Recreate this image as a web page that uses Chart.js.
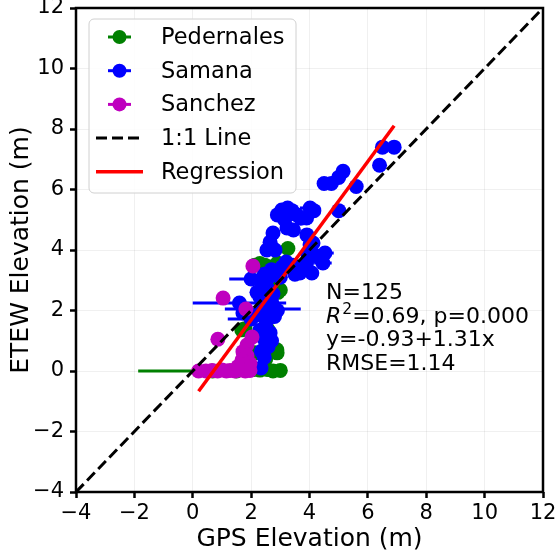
<!DOCTYPE html>
<html>
<head>
<meta charset="utf-8">
<script src="https://cdn.jsdelivr.net/npm/chart.js@4/dist/chart.umd.min.js"></script>
<style>
  html, body { margin: 0; padding: 0; background: #fff; }
  canvas { display: block; }
</style>
</head>
<body>
<canvas id="c" width="558" height="554"></canvas>
<script>
// GPS vs. ETEW elevations (m) for three sites, with horizontal GPS uncertainty
const pedGps  = [0.68, 1.5, 1.9, 2.1, 2.3, 2.55, 2.75, 3.0, 2.5, 2.13, 2.89, 2.7, 1.68, 1.79, 2.58, 2.88, 2.6, 2.4, 2.7, 2.5, 2.37, 2.92, 2.75, 3.0, 2.47, 2.9, 2.65, 2.13, 2.3, 3.0, 3.26];
const pedEtew = [0.0, 0.0, 0.1, 0.05, 0.03, 0.05, 0.0, 0.02, 0.4, 0.6, 0.6, 0.75, 1.36, 1.4, 1.36, 0.7, 1.0, 1.9, 2.0, 2.3, 2.58, 2.6, 2.9, 2.68, 3.5, 3.57, 3.44, 3.5, 3.55, 3.3, 4.05];
const pedErr  = [2.55, 0, 0, 0, 0, 0, 0, 0.2, 0, 0, 0, 0, 0, 0, 0, 0, 0, 0, 0, 0, 0, 0, 0, 0, 0, 0, 0, 0, 0, 0, 0];

const samGps  = [6.9, 6.5, 6.4, 5.6, 5.15, 5.0, 4.75, 4.5, 5.0,
                 2.9, 3.05, 3.25, 3.4, 3.57, 4.02, 4.15, 3.9, 3.7, 3.15,
                 3.23, 3.45, 2.75, 3.91, 2.65, 2.54, 4.02, 4.12, 3.95, 4.53, 4.25, 2.82,
                 3.06, 3.43, 3.9, 4.46, 3.67, 4.08, 2.9, 3.2, 3.5, 2.7, 3.0, 2.45,
                 2.0, 1.6, 2.4, 2.0,
                 2.4, 2.4, 1.72, 2.6, 2.65, 2.58, 2.45, 2.34, 2.2, 2.55, 2.3, 2.7, 2.5, 2.3, 2.6, 2.2, 2.45, 2.7, 2.35, 2.9, 2.8, 2.75, 2.3, 2.6];
const samEtew = [7.4, 7.4, 6.8, 6.1, 6.6, 6.4, 6.2, 6.2, 5.3,
                 5.16, 5.32, 5.39, 5.3, 5.16, 5.39, 5.3, 5.06, 5.05, 5.0,
                 4.73, 4.66, 4.56, 4.5, 4.26, 4.0, 4.17, 4.23, 3.83, 3.9, 3.8, 4.0,
                 3.44, 3.5, 3.57, 3.57, 3.24, 3.24, 3.3, 3.6, 3.2, 3.35, 3.1, 3.2,
                 3.04, 2.25, 2.05, 1.72,
                 2.58, 2.12, 1.92, 2.0, 1.26, 0.8, 0.45, 0.1, 2.6, 2.75, 2.45, 2.3, 1.5, 1.35, 1.75, 1.85, 1.05, 1.0, 0.65, 2.0, 1.8, 2.55, 3.0, 3.1];
const samErr  = [0, 0, 0, 0, 0, 0, 0, 0, 0,
                 0, 0, 0, 0, 0, 0.35, 0, 0, 0, 0,
                 0, 0, 0, 0, 0, 0, 0, 0, 0, 0.3, 0, 0,
                 0, 0, 0, 0.3, 0, 0, 0, 0, 0, 0, 0, 0,
                 0.75, 1.6, 1.3, 0.8,
                 0, 0, 0, 0, 0, 0, 0, 0, 0, 0, 0, 0, 0, 0, 0, 0, 0, 0, 0, 0, 0, 0, 0, 0];

const sanGps  = [0.2, 0.45, 0.66, 0.85, 1.0, 1.15, 1.28, 1.45, 1.62, 1.8, 1.96, 0.86, 2.03, 1.86, 1.72, 1.86, 1.69, 1.96, 1.75, 1.55, 2.06, 1.04, 1.82];
const sanEtew = [0.0, 0.0, 0.02, 0.0, 0.03, 0.0, 0.02, 0.0, 0.03, 0.0, 0.02, 1.05, 1.12, 0.86, 0.64, 0.5, 0.36, 0.25, 0.2, 0.15, 3.47, 2.41, 2.05];
const sanErr  = [0, 0, 0, 0, 0, 0, 0, 0, 0, 0, 0, 0, 0, 0, 0, 0, 0, 0, 0, 0, 0, 0, 0];

// Fitted regression and summary statistics
const fitIntercept = -0.93;
const fitSlope = 1.31;
const statN = 125;
const statR2 = '0.69';
const statP = '0.000';
const statRmse = '1.14';

const axisTicks = [-4, -2, 0, 2, 4, 6, 8, 10, 12];

const FONT = "'DejaVu Sans', sans-serif";
const pts = (xs, ys) => xs.map((x, i) => ({ x: x, y: ys[i] }));

const allGps = pedGps.concat(samGps, sanGps);
const gpsMin = Math.min(...allGps);
const gpsMax = Math.max(...allGps);

const fmtTick = v => (v < 0 ? '\u2212' + Math.abs(v) : String(v));

// Horizontal error bars, drawn under each series' own markers
const errorBars = {
  id: 'errorBars',
  beforeDatasetDraw(chart, args) {
    const ds = chart.data.datasets[args.index];
    if (!ds.xErr) return;
    const xs = chart.scales.x, ys = chart.scales.y, c = chart.ctx;
    c.save();
    c.beginPath();
    c.rect(chart.chartArea.left, chart.chartArea.top, chart.chartArea.width, chart.chartArea.height);
    c.clip();
    c.strokeStyle = ds.borderColor;
    c.lineWidth = 3;
    ds.data.forEach((p, i) => {
      const e = ds.xErr[i];
      if (!e) return;
      const y = ys.getPixelForValue(p.y);
      c.beginPath();
      c.moveTo(xs.getPixelForValue(p.x - e), y);
      c.lineTo(xs.getPixelForValue(p.x + e), y);
      c.stroke();
    });
    c.restore();
  }
};

// Frame, legend box and statistics text
const decorations = {
  id: 'decorations',
  afterDraw(chart) {
    const c = chart.ctx, a = chart.chartArea;
    c.save();
    c.strokeStyle = '#000';
    c.lineWidth = 2.5;
    c.strokeRect(a.left, a.top, a.right - a.left, a.bottom - a.top);

    // legend
    const lx = 89, ly = 19, lw = 207, lh = 174, r = 5;
    c.beginPath();
    c.moveTo(lx + r, ly);
    c.arcTo(lx + lw, ly, lx + lw, ly + lh, r);
    c.arcTo(lx + lw, ly + lh, lx, ly + lh, r);
    c.arcTo(lx, ly + lh, lx, ly, r);
    c.arcTo(lx, ly, lx + lw, ly, r);
    c.closePath();
    c.fillStyle = 'rgba(255,255,255,0.85)';
    c.fill();
    c.strokeStyle = '#d0d0d0';
    c.lineWidth = 1;
    c.stroke();

    const items = chart.data.datasets.map(d => d);
    const order = ['Pedernales', 'Samana', 'Sanchez', '1:1 Line', 'Regression'];
    c.font = '22.5px ' + FONT;
    c.textBaseline = 'middle';
    c.textAlign = 'left';
    order.forEach((name, k) => {
      const d = items.find(it => it.label === name);
      const y = 37 + k * 33.7;
      if (d.showLine) {
        c.strokeStyle = d.borderColor;
        c.lineWidth = d.borderWidth;
        c.setLineDash(d.borderDash || []);
        c.beginPath();
        c.moveTo(96, y);
        c.lineTo(143, y);
        c.stroke();
        c.setLineDash([]);
      } else {
        c.strokeStyle = d.backgroundColor;
        c.lineWidth = 3;
        c.beginPath();
        c.moveTo(108, y);
        c.lineTo(131, y);
        c.stroke();
        c.fillStyle = d.backgroundColor;
        c.beginPath();
        c.arc(119.5, y, 7, 0, Math.PI * 2);
        c.fill();
      }
      c.fillStyle = '#000';
      c.fillText(name, 161, y + 1);
    });

    // statistics
    const sx = 326;
    c.textBaseline = 'alphabetic';
    c.fillStyle = '#000';
    c.font = '22px ' + FONT;
    c.fillText('N=' + statN, sx, 299);
    c.font = 'italic 22px ' + FONT;
    c.fillText('R', sx, 322.5);
    let w = c.measureText('R').width;
    c.font = '15.5px ' + FONT;
    c.fillText('2', sx + w + 1, 313.5);
    w += c.measureText('2').width + 1;
    c.font = '22px ' + FONT;
    c.fillText('=' + statR2 + ', p=' + statP, sx + w, 322.5);
    c.fillText('y=' + fitIntercept.toFixed(2) + '+' + fitSlope.toFixed(2) + 'x', sx, 346);
    c.fillText('RMSE=' + statRmse, sx, 369.5);
    c.restore();
  }
};

const ctx = document.getElementById('c').getContext('2d');
new Chart(ctx, {
  type: 'scatter',
  data: {
    datasets: [
      {
        label: '1:1 Line',
        data: [{ x: -4, y: -4 }, { x: 12, y: 12 }],
        showLine: true, borderColor: '#000', borderWidth: 3, borderDash: [11, 5],
        pointRadius: 0, order: 0
      },
      {
        label: 'Regression',
        data: [{ x: gpsMin, y: fitIntercept + fitSlope * gpsMin }, { x: gpsMax, y: fitIntercept + fitSlope * gpsMax }],
        showLine: true, borderColor: '#ff0000', borderWidth: 3.5,
        pointRadius: 0, order: 1
      },
      {
        label: 'Sanchez', data: pts(sanGps, sanEtew), xErr: sanErr,
        backgroundColor: '#bf00bf', borderColor: '#bf00bf', pointRadius: 7.5, pointBorderWidth: 0, order: 2
      },
      {
        label: 'Samana', data: pts(samGps, samEtew), xErr: samErr,
        backgroundColor: '#0000ff', borderColor: '#0000ff', pointRadius: 7.5, pointBorderWidth: 0, order: 3
      },
      {
        label: 'Pedernales', data: pts(pedGps, pedEtew), xErr: pedErr,
        backgroundColor: '#008000', borderColor: '#008000', pointRadius: 7.5, pointBorderWidth: 0, order: 4
      }
    ]
  },
  options: {
    responsive: false,
    animation: false,
    devicePixelRatio: 1,
    layout: { padding: { top: 8, right: 15, left: 0, bottom: 0 } },
    plugins: { legend: { display: false }, tooltip: { enabled: false } },
    scales: {
      x: {
        type: 'linear', min: -4, max: 12,
        afterBuildTicks: s => { s.ticks = axisTicks.map(v => ({ value: v })); },
        ticks: { font: { family: FONT, size: 21 }, color: '#000', padding: 3, maxRotation: 0, callback: v => fmtTick(v) },
        grid: { color: 'rgba(0,0,0,0.06)', lineWidth: 1, tickColor: '#000', tickLength: 6, tickWidth: 2.5 },
        border: { display: false },
        title: { display: true, text: 'GPS Elevation (m)', font: { family: FONT, size: 25 }, color: '#000', padding: { top: 0, bottom: 0 } },
        afterFit: s => { s.height = 62; s.paddingLeft = 0; s.paddingRight = 0; }
      },
      y: {
        type: 'linear', min: -4, max: 12,
        afterBuildTicks: s => { s.ticks = axisTicks.map(v => ({ value: v })); },
        ticks: { font: { family: FONT, size: 21 }, color: '#000', padding: 6, callback: v => fmtTick(v) },
        grid: { color: 'rgba(0,0,0,0.06)', lineWidth: 1, tickColor: '#000', tickLength: 6, tickWidth: 2.5 },
        border: { display: false },
        title: { display: true, text: 'ETEW Elevation (m)', font: { family: FONT, size: 25 }, color: '#000', padding: { top: 6, bottom: 0 } },
        afterFit: s => { s.width = 76; s.paddingTop = 0; s.paddingBottom = 0; }
      }
    }
  },
  plugins: [errorBars, decorations]
});
</script>
</body>
</html>
